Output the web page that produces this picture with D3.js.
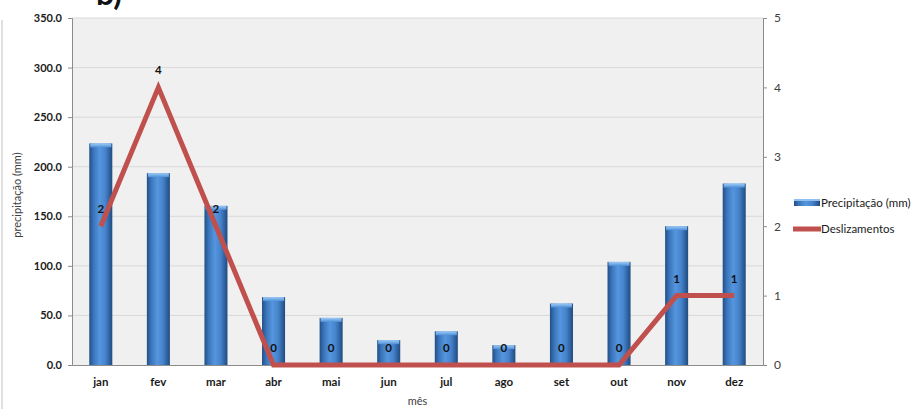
<!DOCTYPE html>
<html>
<head>
<meta charset="utf-8">
<script src="https://cdn.jsdelivr.net/npm/d3@7"></script>
<style>
  html, body { margin: 0; padding: 0; background: #fff; }
  svg { display: block; font-family: Lato, "Open Sans", sans-serif; }
</style>
</head>
<body>
<svg id="chart" width="915" height="409"></svg>
<script>
// Monthly rainfall and landslide counts
const meses = ["jan", "fev", "mar", "abr", "mai", "jun", "jul", "ago", "set", "out", "nov", "dez"];
const precipitacao = [223.5, 193.5, 160.5, 68.5, 47.5, 25, 34, 20, 62, 104, 140, 183];
const deslizamentos = [2, 4, 2, 0, 0, 0, 0, 0, 0, 0, 1, 1];
const ticksPrecip = [0, 50, 100, 150, 200, 250, 300, 350];
const ticksDesl = [0, 1, 2, 3, 4, 5];

const svg = d3.select("#chart");
const W = 915, H = 409;
const plot = { left: 72, right: 763, top: 18, bottom: 365 };

// outer frame edge
svg.append("line").attr("x1", 2).attr("x2", 2).attr("y1", 20).attr("y2", H)
  .attr("stroke", "#d6d6d6").attr("stroke-width", 1.5);

// panel letter, running off the top edge
svg.append("text").attr("x", 96).attr("y", 5)
  .attr("font-size", 32).attr("font-weight", "bold").attr("fill", "#111")
  .attr("font-family", "Lato, sans-serif").text("b)");

const x = d3.scaleBand().domain(meses).range([plot.left, plot.right]).paddingInner(0.6).paddingOuter(0.3);
const xc = d => x(d) + x.bandwidth() / 2;
const y = d3.scaleLinear().domain([0, 350]).range([plot.bottom, plot.top]);
const y2 = d3.scaleLinear().domain([0, 5]).range([plot.bottom, plot.top]);

// plot background
svg.append("rect").attr("x", plot.left).attr("y", plot.top)
  .attr("width", plot.right - plot.left).attr("height", plot.bottom - plot.top)
  .attr("fill", "#f0f0f0");

// gridlines
svg.append("g").selectAll("line").data(ticksPrecip.slice(1)).join("line")
  .attr("x1", plot.left).attr("x2", plot.right)
  .attr("y1", d => y(d)).attr("y2", d => y(d))
  .attr("stroke", "#d9d9d9").attr("stroke-width", 1);

// bar gradients
const defs = svg.append("defs");
const g = defs.append("linearGradient").attr("id", "barGrad").attr("x1", "0%").attr("x2", "100%");
[["0%", "#214f86"], ["18%", "#3a74ba"], ["45%", "#5596de"], ["70%", "#4683cc"], ["100%", "#1f4b80"]]
  .forEach(([o, c]) => g.append("stop").attr("offset", o).attr("stop-color", c));
const gc = defs.append("linearGradient").attr("id", "capGrad").attr("x1", "0%").attr("x2", "0%").attr("y1", "0%").attr("y2", "100%");
[["0%", "#9ccbf5"], ["100%", "#4f8fd8"]]
  .forEach(([o, c]) => gc.append("stop").attr("offset", o).attr("stop-color", c));

// bars
const bars = svg.append("g");
bars.selectAll("rect.bar").data(meses).join("rect").attr("class", "bar")
  .attr("x", d => x(d)).attr("width", x.bandwidth())
  .attr("y", (d, i) => y(precipitacao[i]))
  .attr("height", (d, i) => plot.bottom - y(precipitacao[i]))
  .attr("fill", "url(#barGrad)");
bars.selectAll("rect.cap").data(meses).join("rect").attr("class", "cap")
  .attr("x", d => x(d) + 1).attr("width", x.bandwidth() - 2)
  .attr("y", (d, i) => y(precipitacao[i]))
  .attr("height", 4)
  .attr("fill", "url(#capGrad)");

// left axis
const axL = svg.append("g").attr("transform", `translate(${plot.left},0)`)
  .call(d3.axisLeft(y).tickValues(ticksPrecip).tickFormat(d3.format(".1f")).tickSize(4).tickPadding(6));
axL.select(".domain").attr("stroke", "#8c8c8c");
axL.selectAll(".tick line").attr("stroke", "#8c8c8c");
axL.selectAll("text").attr("font-size", 11).attr("font-weight", "bold").attr("fill", "#1a1a1a")
  .attr("font-family", "Lato, sans-serif");

// right axis
const axR = svg.append("g").attr("transform", `translate(${plot.right},0)`)
  .call(d3.axisRight(y2).tickValues(ticksDesl).tickFormat(d3.format("d")).tickSize(4).tickPadding(7));
axR.select(".domain").attr("stroke", "#8c8c8c");
axR.selectAll(".tick line").attr("stroke", "#8c8c8c");
axR.selectAll("text").attr("font-size", 12).attr("fill", "#404040")
  .attr("font-family", "Lato, sans-serif");

// bottom axis
const axB = svg.append("g").attr("transform", `translate(0,${plot.bottom})`)
  .call(d3.axisBottom(x).tickSize(0).tickPadding(13));
axB.select(".domain").attr("stroke", "#8c8c8c");
axB.selectAll("text").attr("font-size", 11.5).attr("font-weight", "bold").attr("fill", "#1a1a1a")
  .attr("font-family", "Lato, sans-serif");

// landslide line
const line = d3.line().x((d, i) => xc(meses[i])).y(d => y2(d));
svg.append("path").datum(deslizamentos).attr("d", line)
  .attr("fill", "none").attr("stroke", "#c0504d").attr("stroke-width", 5)
  .attr("stroke-linejoin", "miter");

// value labels
svg.append("g").selectAll("text").data(deslizamentos).join("text")
  .attr("x", (d, i) => xc(meses[i]))
  .attr("y", d => y2(d) - 13)
  .attr("text-anchor", "middle")
  .attr("font-size", 11.5).attr("font-weight", "bold").attr("fill", "#111")
  .attr("font-family", "Lato, sans-serif")
  .text(d => d);

// axis titles
svg.append("text").attr("transform", `translate(21,195) rotate(-90)`)
  .attr("text-anchor", "middle").attr("font-size", 11).attr("fill", "#404040")
  .text("precipitação (mm)");
svg.append("text").attr("x", (plot.left + plot.right) / 2).attr("y", 405)
  .attr("text-anchor", "middle").attr("font-size", 11).attr("fill", "#404040")
  .text("mês");

// legend
const lg = svg.append("g");
lg.append("rect").attr("x", 794).attr("y", 199).attr("width", 26).attr("height", 7)
  .attr("fill", "url(#barGrad)");
lg.append("rect").attr("x", 794).attr("y", 199).attr("width", 26).attr("height", 2)
  .attr("fill", "#8fc0f0");
lg.append("text").attr("x", 821).attr("y", 207).attr("font-size", 11.5).attr("fill", "#1a1a1a")
  .text("Precipitação (mm)");
lg.append("line").attr("x1", 793).attr("x2", 821).attr("y1", 229).attr("y2", 229)
  .attr("stroke", "#c0504d").attr("stroke-width", 5);
lg.append("text").attr("x", 821).attr("y", 233).attr("font-size", 11.5).attr("fill", "#1a1a1a")
  .text("Deslizamentos");
</script>
</body>
</html>
